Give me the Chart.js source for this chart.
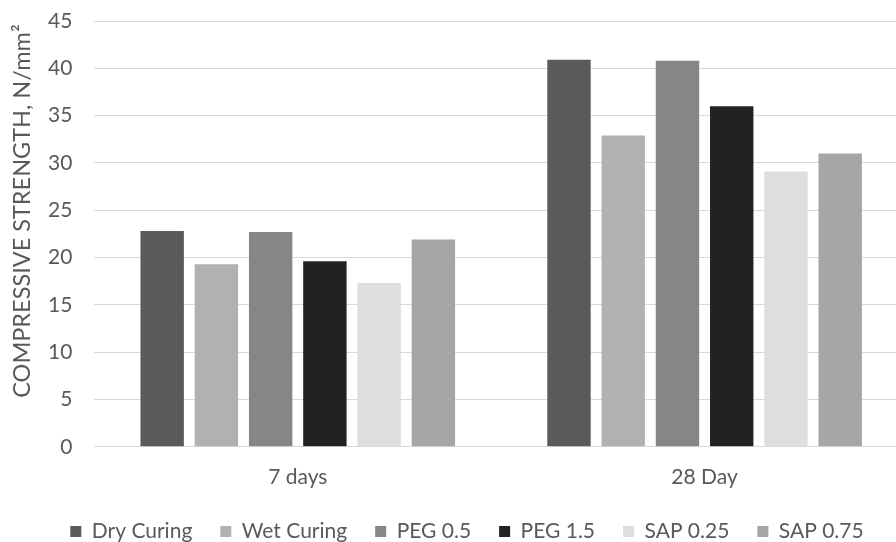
<!DOCTYPE html>
<html>
<head>
<meta charset="utf-8">
<script src="https://cdn.jsdelivr.net/npm/chart.js@4"></script>
<style>
  html, body { margin: 0; padding: 0; background: #fff; overflow: hidden; }
  #wrap { width: 908px; height: 542px; position: relative; }
</style>
</head>
<body>
<div id="wrap"><canvas id="c"></canvas></div>
<script>
// Curing ages along the x axis
const ages = ['7 days', '28 Day'];

// Compressive strength (N/mm²) for each curing method
const dryCuring = [22.8, 40.9];
const wetCuring = [19.3, 32.9];
const peg05 = [22.7, 40.8];
const peg15 = [19.6, 36.0];
const sap025 = [17.3, 29.1];
const sap075 = [21.9, 31.0];

const seriesNames = ['Dry Curing', 'Wet Curing', 'PEG 0.5', 'PEG 1.5', 'SAP 0.25', 'SAP 0.75'];
const seriesValues = [dryCuring, wetCuring, peg05, peg15, sap025, sap075];
const seriesColors = ['#5a5a5a', '#b1b1b1', '#868686', '#222222', '#dedede', '#a6a6a6'];

const yTicks = [0, 5, 10, 15, 20, 25, 30, 35, 40, 45];
const yTitle = 'COMPRESSIVE STRENGTH, N/mm²';

const FONT = 'Lato, "Open Sans", sans-serif';
const TEXT = '#595959';

const datasets = seriesNames.map((name, i) => ({
  label: name,
  data: seriesValues[i],
  backgroundColor: seriesColors[i],
  borderColor: seriesColors[i],
  borderWidth: 0,
  categoryPercentage: 0.8,
  barPercentage: 0.8
}));

// Vertical value-axis title, placed in the left margin
const axisTitle = {
  id: 'axisTitle',
  afterDraw(chart) {
    const ctx = chart.ctx;
    ctx.save();
    ctx.translate(22, 211);
    ctx.rotate(-Math.PI / 2);
    ctx.font = '23.5px ' + FONT;
    ctx.fillStyle = TEXT;
    ctx.textAlign = 'center';
    ctx.textBaseline = 'middle';
    ctx.fillText(yTitle, 0, 0);
    ctx.restore();
  }
};

new Chart(document.getElementById('c'), {
  type: 'bar',
  data: { labels: ages, datasets },
  plugins: [axisTitle],
  options: {
    responsive: true,
    maintainAspectRatio: false,
    animation: false,
    layout: { padding: { left: 26, right: 0, top: 21, bottom: -10 } },
    plugins: {
      tooltip: { enabled: false },
      legend: {
        position: 'bottom',
        labels: {
          boxWidth: 11,
          boxHeight: 11,
          padding: 28,
          color: TEXT,
          font: { family: FONT, size: 21 }
        }
      }
    },
    scales: {
      x: {
        grid: { display: false, drawTicks: false },
        border: { display: false },
        ticks: { color: TEXT, font: { family: FONT, size: 21 }, padding: 18 },
        afterFit: (axis) => { axis.height -= 15; }
      },
      y: {
        min: 0,
        max: 45,
        afterBuildTicks: (axis) => { axis.ticks = yTicks.map(v => ({ value: v })); },
        afterFit: (axis) => { axis.paddingTop = 0; },
        grid: { color: '#d9d9d9', lineWidth: 1, drawTicks: false },
        border: { display: false },
        ticks: { color: TEXT, font: { family: FONT, size: 21 }, padding: 22 }
      }
    }
  }
});
</script>
</body>
</html>
